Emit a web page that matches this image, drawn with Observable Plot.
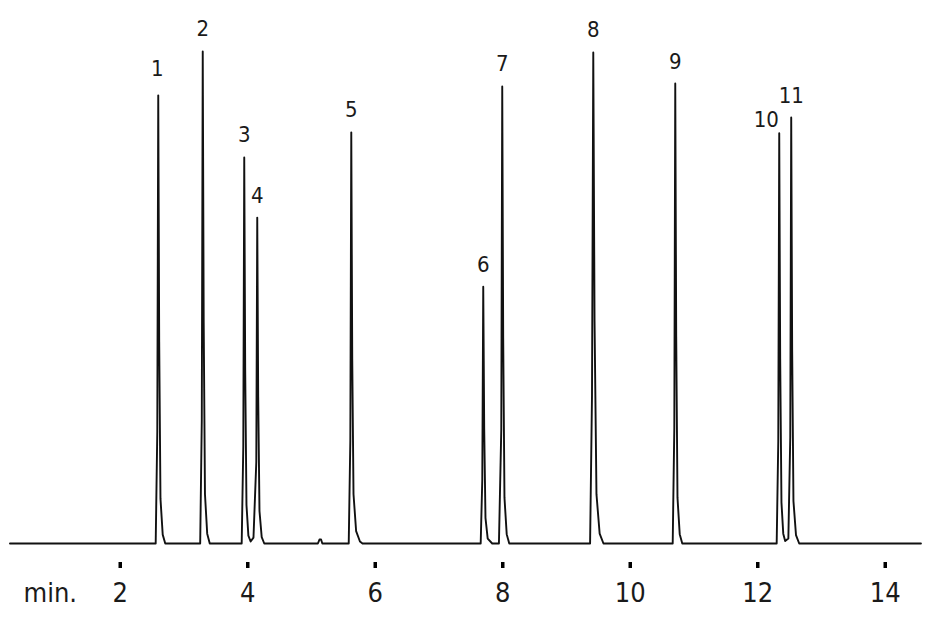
<!DOCTYPE html>
<html><head><meta charset="utf-8">
<script src="https://cdn.jsdelivr.net/npm/d3@7"></script>
<script src="https://cdn.jsdelivr.net/npm/@observablehq/plot@0.6"></script>
<style>
body{margin:0;background:#fff}
svg{display:block}
</style>
</head><body><div id="chart"></div>
<script>
// Peak annotations (retention time in min, relative signal)
const peakLabels  = ["1","2","3","4","5","6","7","8","9","10","11"];
const peakTimes   = [2.596, 3.294, 3.945, 4.149, 5.624, 7.694, 7.992, 9.420, 10.706, 12.337, 12.525];
const peakHeights = [90.9, 99.8, 78.3, 66.1, 83.4, 52.1, 92.7, 99.6, 93.3, 83.2, 86.4];

// Detector trace
const traceTime = [0.27,
  2.556,2.581,2.596,2.611,2.631,2.666,2.706,
  3.254,3.279,3.294,3.309,3.329,3.364,3.404,
  3.905,3.930,3.945,3.960,3.980,4.010,4.045,
  4.090,4.134,4.149,4.164,4.184,4.219,4.259,
  5.100,5.125,5.150,5.170,
  5.584,5.609,5.624,5.639,5.659,5.700,5.760,5.800,
  7.654,7.679,7.694,7.709,7.729,7.764,7.835,
  7.940,7.977,7.992,8.007,8.027,8.062,8.102,
  9.370,9.400,9.420,9.440,9.470,9.520,9.580,
  10.666,10.691,10.706,10.721,10.741,10.776,10.816,
  12.297,12.322,12.337,12.352,12.372,12.400,12.430,
  12.480,12.510,12.525,12.540,12.560,12.600,12.650,
  14.56];
const traceSignal = [0,
  0,22.7,90.9,40.9,9.1,1.8,0,
  0,25,99.8,44.9,10,2,0,
  0,19.6,78.3,35.2,7.8,1.6,0.4,
  1.2,16.5,66.1,29.7,6.6,1.3,0,
  0,0.8,0.8,0,
  0,20.9,83.4,37.5,10,2.5,0.4,0,
  0,13,52.1,23.4,5.2,1,0,
  0,23.2,92.7,41.7,9.3,1.9,0,
  0,30,99.6,45,10,2,0,
  0,23.3,93.3,42,9.3,1.9,0,
  0,20.8,83.2,37.4,8.3,2,0.5,
  1,21.6,86.4,38.9,8.6,1.7,0,
  0];

const axisTicks = [2, 4, 6, 8, 10, 12, 14];
const axisUnit = "min.";

const trace = traceTime.map((t, i) => ({t, s: traceSignal[i]}));
const peaks = peakLabels.map((label, i) => ({label, t: peakTimes[i], h: peakHeights[i]}));

const FONT = '"Liberation Sans Narrow", "DejaVu Sans Condensed", "Roboto Condensed", "Liberation Sans", sans-serif';

const chart = Plot.plot({
  width: 932,
  height: 621,
  marginLeft: 5,
  marginRight: 9,
  marginTop: 50,
  marginBottom: 59,
  style: {fontFamily: FONT, color: "#111", background: "#fff"},
  x: {domain: [0.2, 14.6], axis: null},
  y: {domain: [0, 100], axis: null, insetBottom: 19},
  marks: [
    Plot.line(trace, {x: "t", y: "s", stroke: "#111", strokeWidth: 1.9, strokeLinejoin: "round"}),
    Plot.axisX({ticks: axisTicks, tickSize: 6, tickPadding: 14, fontSize: 27, stroke: "#000", strokeWidth: 3.5, strokeLinecap: "butt", tickFormat: d => String(d), label: null, fill: "#1a1a1a"}),
    Plot.text([axisUnit], {frameAnchor: "bottom-left", text: d => d, dx: 18, dy: 20, lineAnchor: "top", textAnchor: "start", fontSize: 27, fill: "#1a1a1a"}),
    Plot.text(peaks.filter(d => d.label !== "10" && d.label !== "1"), {x: "t", y: "h", text: "label", dy: -15, lineAnchor: "bottom", fontSize: 22, fill: "#1a1a1a"}),
    Plot.text(peaks.filter(d => d.label === "1"), {x: "t", y: "h", text: "label", dx: -1, dy: -19, lineAnchor: "bottom", fontSize: 22, fill: "#1a1a1a"}),
    Plot.text(peaks.filter(d => d.label === "10"), {x: "t", y: "h", text: "label", dx: -13, dy: -6, lineAnchor: "bottom", fontSize: 22, fill: "#1a1a1a"})
  ]
});
document.getElementById("chart").appendChild(chart);
</script>
</body></html>
